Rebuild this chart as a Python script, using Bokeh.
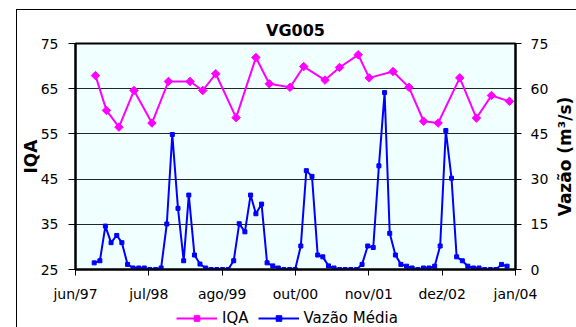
import math
import numpy as np
import pandas as pd
from bokeh.plotting import figure
from bokeh.layouts import column, row
from bokeh.models import (Range1d, LinearAxis, FixedTicker, Legend, LegendItem,
                          ColumnDataSource, Title)
from bokeh.embed import file_html
from bokeh.resources import INLINE

# ---------------- data ----------------
title_text = "VG005"
axis_start = "1997-06-21"
tick_step_days = 400
tick_labels = ["jun/97", "jul/98", "ago/99", "out/00", "nov/01", "dez/02", "jan/04"]

iqa_ticks = [25, 35, 45, 55, 65, 75]
vazao_ticks = [0, 15, 30, 45, 60, 75]

iqa_dates = ["1997-10-08", "1997-12-07", "1998-02-13", "1998-05-06", "1998-08-12",
             "1998-11-10", "1999-03-08", "1999-05-16", "1999-07-26", "1999-11-14",
             "2000-03-01", "2000-05-13", "2000-09-03", "2000-11-17", "2001-03-13",
             "2001-05-31", "2001-09-10", "2001-11-09", "2002-03-19", "2002-06-14",
             "2002-09-02", "2002-11-20", "2003-03-18", "2003-06-17", "2003-09-07",
             "2003-12-14"]
iqa_values = [67.9, 60.2, 56.5, 64.6, 57.4, 66.6, 66.6, 64.6, 68.3, 58.6,
              71.9, 66.1, 65.3, 69.9, 66.9, 69.7, 72.5, 67.4, 68.8, 65.3,
              57.8, 57.4, 67.4, 58.5, 63.5, 62.2]

vazao_first_month = "1997-10-01"
vazao_values = [2.2, 2.9, 14.4, 8.9, 11.3, 8.9, 1.7, 0.5, 0.5, 0.5,
                0, 0, 0.5, 15.1, 44.8, 20.3, 2.9, 24.7, 4.8, 1.8,
                0.5, 0, 0, 0, 0, 2.9, 15.2, 12.5, 24.7, 18.5,
                21.7, 2.2, 1.2, 0.5, 0, 0, 0, 7.8, 32.8, 30.9,
                4.8, 4.2, 1.2, 0.5, 0, 0, 0, 0, 1.7, 7.8,
                7.3, 34.4, 58.7, 12.0, 4.8, 1.7, 1.1, 0.5, 0, 0.5,
                0.5, 1.1, 7.8, 46.1, 30.3, 4.2, 2.9, 1.1, 0.5, 0.5,
                0, 0, 0, 1.7, 1.1]

series_labels = ["IQA", "Vazão Média"]
y_label = "IQA"
y2_label = "Vazão (m³/s)"

# ---------------- helpers ----------------
EPOCH = pd.Timestamp("1970-01-01")
DAY_MS = 86400000.0


def to_ms(ts):
    return (pd.to_datetime(ts) - EPOCH) / pd.Timedelta(milliseconds=1)


x0 = float(to_ms(axis_start))
ticks = [x0 + i * tick_step_days * DAY_MS for i in range(len(tick_labels))]
x1 = ticks[-1]

iqa_src = ColumnDataSource(dict(x=np.asarray(to_ms(iqa_dates), dtype=float),
                                y=iqa_values))
vz_dates = pd.date_range(vazao_first_month, periods=len(vazao_values), freq="MS")
vz_src = ColumnDataSource(dict(x=np.asarray(to_ms(vz_dates), dtype=float),
                               y=vazao_values))

FONT = "DejaVu Sans"
MAGENTA = "#FF00FF"
BLUE = "#0000FF"

MAIN_W = 549
TOP, FRAME_H, BOTTOM = 43, 226, 34

fig = figure(width=MAIN_W, frame_width=440, frame_height=FRAME_H,
             min_border_left=75, min_border_right=34,
             min_border_top=TOP, min_border_bottom=BOTTOM,
             x_range=Range1d(x0, x1), y_range=Range1d(iqa_ticks[0], iqa_ticks[-1]),
             output_backend="svg", toolbar_location=None)
fig.extra_y_ranges = {"q": Range1d(vazao_ticks[0], vazao_ticks[-1])}

fig.background_fill_color = "#F0FFFF"
fig.border_fill_color = "white"
fig.outline_line_color = "black"
fig.outline_line_width = 2

# title
fig.title.text = title_text
fig.title.align = "center"
fig.title.text_font = FONT
fig.title.text_font_size = "16px"
fig.title.text_font_style = "bold"
fig.title.text_color = "black"
fig.title.standoff = 8

# grid
fig.xgrid.visible = False
fig.ygrid.ticker = FixedTicker(ticks=iqa_ticks)
fig.ygrid.grid_line_color = "black"
fig.ygrid.grid_line_width = 1
fig.ygrid.grid_line_alpha = 0.85


def style_axis(ax, tick_out, standoff):
    ax.axis_line_color = "black"
    ax.axis_line_width = 2
    ax.major_tick_out = tick_out
    ax.major_tick_in = 0
    ax.major_tick_line_color = "black"
    ax.minor_tick_out = 0
    ax.minor_tick_in = 0
    ax.major_label_standoff = standoff
    ax.major_label_text_font = FONT
    ax.major_label_text_font_size = "14px"
    ax.major_label_text_color = "black"
    ax.axis_label_text_font = FONT
    ax.axis_label_text_font_size = "17px"
    ax.axis_label_text_font_style = "bold"
    ax.axis_label_text_color = "black"


# x axis
xa = fig.xaxis[0]
xa.ticker = FixedTicker(ticks=ticks)
xa.major_label_overrides = {t: lab for t, lab in zip(ticks, tick_labels)}
style_axis(xa, 6, 10)
xa.axis_label = None
xa.axis_label_standoff = 0

# left y axis
ya = fig.yaxis[0]
ya.ticker = FixedTicker(ticks=iqa_ticks)
style_axis(ya, 7, 10)
ya.axis_label = y_label
ya.axis_label_standoff = -3

# right y axis (its title is drawn in the narrow strip to the right)
ra = LinearAxis(y_range_name="q", ticker=FixedTicker(ticks=vazao_ticks))
style_axis(ra, 6, 9)
ra.axis_label = None
fig.add_layout(ra, "right")

# series
l1 = fig.line("x", "y", source=iqa_src, line_color=MAGENTA, line_width=2)
s1 = fig.scatter("x", "y", source=iqa_src, marker="square", angle=math.pi / 4,
                 size=6, fill_color=MAGENTA, line_color=MAGENTA, line_width=1)
l2 = fig.line("x", "y", source=vz_src, y_range_name="q", line_color=BLUE, line_width=2)
s2 = fig.scatter("x", "y", source=vz_src, y_range_name="q", marker="square",
                 size=4, fill_color=BLUE, line_color=BLUE, line_width=1)

# ---------------- legend strip under the chart ----------------
lfig = figure(width=MAIN_W, height=30, min_border=0,
              x_range=Range1d(0, 1), y_range=Range1d(0, 1),
              x_axis_location=None, y_axis_location=None,
              output_backend="svg", toolbar_location=None)
lfig.outline_line_color = None
lfig.background_fill_color = "white"
lfig.border_fill_color = "white"
lfig.grid.visible = False
# same series & styles; their data lie outside this strip's ranges, so only the
# legend swatches show
ll1 = lfig.line("x", "y", source=iqa_src, line_color=MAGENTA, line_width=2)
ls1 = lfig.scatter("x", "y", source=iqa_src, marker="square", angle=math.pi / 4,
                   size=6, fill_color=MAGENTA, line_color=MAGENTA, line_width=1)
ll2 = lfig.line("x", "y", source=vz_src, line_color=BLUE, line_width=2)
ls2 = lfig.scatter("x", "y", source=vz_src, marker="square",
                   size=4, fill_color=BLUE, line_color=BLUE, line_width=1)

legend = Legend(items=[LegendItem(label=series_labels[0], renderers=[ll1, ls1]),
                       LegendItem(label=series_labels[1], renderers=[ll2, ls2])],
                orientation="horizontal", location=(101, 7))
legend.label_text_font = FONT
legend.label_text_font_size = "15px"
legend.label_text_color = "black"
legend.label_height = 14
legend.glyph_width = 41
legend.glyph_height = 14
legend.padding = 0
legend.margin = 0
legend.spacing = 9
legend.label_standoff = 5
legend.border_line_alpha = 0
legend.background_fill_alpha = 0
lfig.add_layout(legend, "center")

# ---------------- right strip holding the secondary-axis title ----------------
rfig = figure(width=576 - MAIN_W, height=TOP + FRAME_H + BOTTOM,
              min_border_left=23, min_border_right=0,
              min_border_top=TOP, min_border_bottom=BOTTOM,
              x_range=Range1d(0, 1), y_range=Range1d(0, 1),
              x_axis_location=None, y_axis_location=None,
              output_backend="svg", toolbar_location=None)
rfig.outline_line_color = None
rfig.background_fill_color = "white"
rfig.border_fill_color = "white"
rfig.grid.visible = False
rfig.add_layout(Title(text=y2_label, align="center", text_font=FONT,
                      text_font_size="17px", text_font_style="bold",
                      text_color="black", standoff=0, offset=0), "left")

p = row(column(fig, lfig, spacing=0), rfig, spacing=0)
# outer chart-area border: left and top edges (right/bottom lie outside the window)
p.stylesheets = [":host { position: relative; }",
                 ":host::after { content: ''; position: absolute; left: 16px; top: 9px;"
                 " width: 3000px; height: 3000px; border-left: 1px solid #000;"
                 " border-top: 1px solid #000; pointer-events: none; }"]

open("out.html", "w").write(file_html(p, INLINE))
